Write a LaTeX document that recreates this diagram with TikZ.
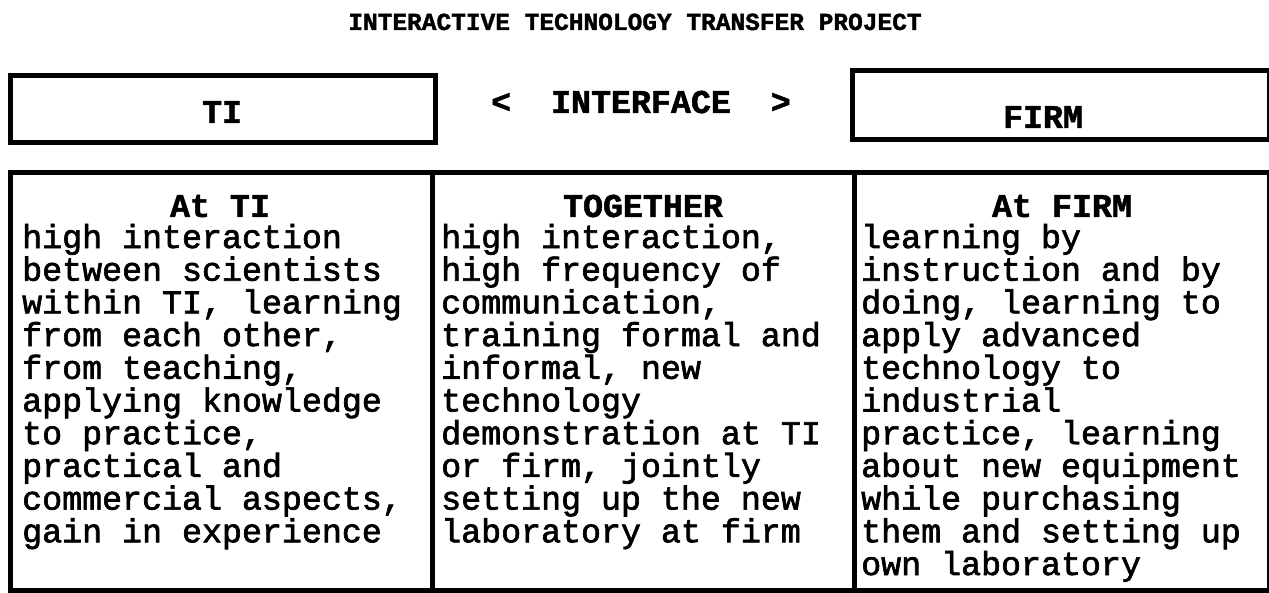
\documentclass[tikz,border=0pt]{standalone}
\usepackage{fontspec}
\newfontfamily\bodyfont[FakeBold=2]{Liberation Mono}
\newfontfamily\headfont[FakeBold=1.5]{Liberation Mono Bold}
\begin{document}
\begin{tikzpicture}[x=1pt,y=-1pt,
  frame/.style={draw=black, line width=5pt, anchor=north west, inner sep=0pt},
  bodytext/.style={anchor=base west, inner sep=0pt, align=left,
    font=\bodyfont\fontsize{33.3}{32.7}\selectfont},
  headtext/.style={anchor=base, inner sep=0pt,
    font=\headfont\fontsize{33.3}{32.7}\selectfont},
  titletext/.style={anchor=base, inner sep=0pt,
    font=\headfont\fontsize{24.5}{26}\selectfont}]
\useasboundingbox[fill=white] (0,0) rectangle (1269,593);

\node[titletext] (title) at (635,30) {INTERACTIVE TECHNOLOGY TRANSFER PROJECT};

% top row
\node[frame, minimum width=425pt, minimum height=67pt] (tibox) at (8,73) {};
\node[headtext] (tilabel) at (222,123) {TI};
\node[headtext] (iface) at (641,113) {<\ \ INTERFACE\ \ >};
\node[frame, minimum width=417pt, minimum height=69pt] (firmbox) at (850,68) {};
\node[headtext] (firmlabel) at (1043,128) {FIRM};

% bottom columns
\node[frame, minimum width=422pt, minimum height=418pt] (c1) at (8,170) {};
\node[frame, minimum width=422pt, minimum height=418pt] (c2) at (430,170) {};
\node[frame, minimum width=415pt, minimum height=418pt] (c3) at (852,170) {};

\node[headtext] (h1) at (220,217) {At TI};
\node[headtext] (h2) at (643,217) {TOGETHER};
\node[headtext] (h3) at (1062,217) {At FIRM};

% multi-line nodes: base anchor = baseline of the last line
\node[bodytext] (b1) at (22,542.3) {high interaction\\
between scientists\\
within TI, learning\\
from each other,\\
from teaching,\\
applying knowledge\\
to practice,\\
practical and\\
commercial aspects,\\
gain in experience};

\node[bodytext] (b2) at (441,542.3) {high interaction,\\
high frequency of\\
communication,\\
training formal and\\
informal, new\\
technology\\
demonstration at TI\\
or firm, jointly\\
setting up the new\\
laboratory at firm};

\node[bodytext] (b3) at (861,575) {learning by\\
instruction and by\\
doing, learning to\\
apply advanced\\
technology to\\
industrial\\
practice, learning\\
about new equipment\\
while purchasing\\
them and setting up\\
own laboratory};
\end{tikzpicture}
\end{document}
